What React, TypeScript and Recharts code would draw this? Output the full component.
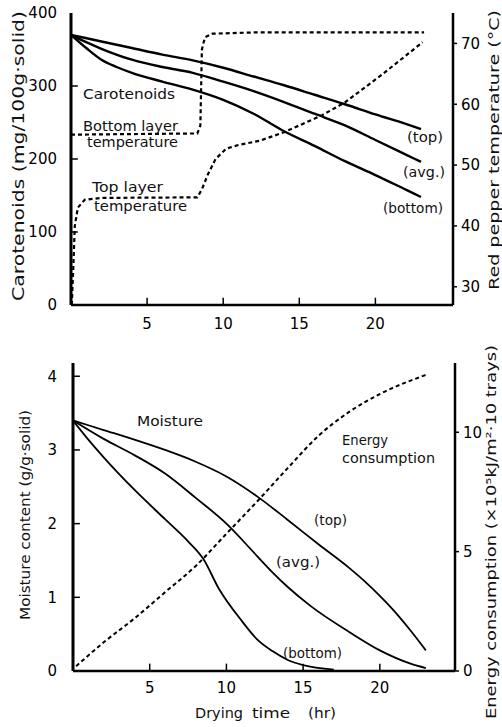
import React from 'react';
import { LineChart, Line, XAxis, YAxis, ReferenceLine } from 'recharts';

const FONT = 'DejaVu Sans';

// ---------- Top panel: carotenoids & red pepper temperature vs drying time ----------
const caroTop = [
  { t: 0, v: 370 }, { t: 2, v: 361 }, { t: 4, v: 352 }, { t: 6, v: 343 }, { t: 8, v: 335 },
  { t: 10, v: 325 }, { t: 12, v: 313 }, { t: 14, v: 301 }, { t: 16, v: 288 }, { t: 18, v: 275 },
  { t: 20, v: 261 }, { t: 22, v: 248 }, { t: 23, v: 241 },
];
const caroAvg = [
  { t: 0, v: 370 }, { t: 1, v: 360 }, { t: 2, v: 351 }, { t: 4, v: 336 }, { t: 6, v: 326 },
  { t: 8, v: 318 }, { t: 10, v: 306 }, { t: 12, v: 293 }, { t: 14, v: 278 }, { t: 16, v: 262 },
  { t: 18, v: 246 }, { t: 20, v: 226 }, { t: 22, v: 206 }, { t: 23, v: 196 },
];
const caroBottom = [
  { t: 0, v: 370 }, { t: 1, v: 352 }, { t: 2, v: 336 }, { t: 3, v: 326 }, { t: 4, v: 318 },
  { t: 6, v: 306 }, { t: 8, v: 295 }, { t: 10, v: 281 }, { t: 12, v: 262 }, { t: 14, v: 238 },
  { t: 16, v: 218 }, { t: 18, v: 197 }, { t: 20, v: 178 }, { t: 22, v: 158 }, { t: 23, v: 148 },
];
const tempBottomLayer = [
  { t: 0, v: 55 }, { t: 8.3, v: 55.2 }, { t: 8.5, v: 56.5 }, { t: 8.6, v: 69 }, { t: 8.8, v: 71 },
  { t: 9.3, v: 71.6 }, { t: 12, v: 71.8 }, { t: 23.2, v: 71.8 },
];
const tempTopLayer = [
  { t: 0.05, v: 27 }, { t: 0.15, v: 33 }, { t: 0.25, v: 40 }, { t: 0.45, v: 43 }, { t: 0.9, v: 44.3 },
  { t: 2, v: 44.6 }, { t: 8.3, v: 44.7 }, { t: 8.6, v: 46 }, { t: 9, v: 48.5 }, { t: 9.5, v: 51 },
  { t: 10.2, v: 52.7 }, { t: 11, v: 53.3 }, { t: 12.4, v: 54 }, { t: 14, v: 55.4 }, { t: 16.5, v: 58.2 },
  { t: 18, v: 60.3 }, { t: 20.5, v: 65 }, { t: 23.1, v: 70.2 },
];
const topXTicks = [5, 10, 15, 20];
const caroTicks = [0, 100, 200, 300, 400];
const tempTicks = [30, 40, 50, 60, 70];

// ---------- Bottom panel: moisture & energy consumption vs drying time ----------
const moistTop = [
  { t: 0, v: 3.4 }, { t: 2, v: 3.27 }, { t: 4, v: 3.14 }, { t: 6, v: 3.0 }, { t: 8, v: 2.84 },
  { t: 10, v: 2.64 }, { t: 12, v: 2.37 }, { t: 14, v: 2.05 }, { t: 16, v: 1.72 }, { t: 18, v: 1.4 },
  { t: 19, v: 1.22 }, { t: 20, v: 1.02 }, { t: 21, v: 0.8 }, { t: 22, v: 0.55 }, { t: 23, v: 0.28 },
];
const moistAvg = [
  { t: 0, v: 3.4 }, { t: 2, v: 3.15 }, { t: 4, v: 2.93 }, { t: 6, v: 2.68 }, { t: 8, v: 2.35 },
  { t: 10, v: 2.0 }, { t: 12, v: 1.56 }, { t: 13, v: 1.34 }, { t: 14, v: 1.14 }, { t: 15.5, v: 0.88 },
  { t: 18, v: 0.53 }, { t: 20, v: 0.28 }, { t: 22, v: 0.1 }, { t: 23, v: 0.04 },
];
const moistBottom = [
  { t: 0, v: 3.4 }, { t: 1, v: 3.14 }, { t: 2, v: 2.9 }, { t: 4, v: 2.46 }, { t: 6, v: 2.06 },
  { t: 7.5, v: 1.76 }, { t: 8.5, v: 1.52 }, { t: 9.5, v: 1.12 }, { t: 11, v: 0.68 }, { t: 12, v: 0.43 },
  { t: 13, v: 0.27 }, { t: 14, v: 0.15 }, { t: 15, v: 0.08 }, { t: 17, v: 0.02 },
];
const energy = [
  { t: 0.2, v: 0.2 }, { t: 2, v: 1.2 }, { t: 4, v: 2.2 }, { t: 6, v: 3.3 }, { t: 8, v: 4.4 },
  { t: 10, v: 5.75 }, { t: 12, v: 7.1 }, { t: 14, v: 8.5 }, { t: 16, v: 9.85 }, { t: 18, v: 10.85 },
  { t: 20, v: 11.6 }, { t: 23, v: 12.4 },
];
const bottomXTicks = [5, 10, 15, 20];
const moistTicks = [0, 1, 2, 3, 4];
const energyTicks = [0, 5, 10];

const tickStyle = { fill: '#000', fontSize: 15, fontFamily: FONT };
const AX = '#000';

function Txt({ x, y, children, len, size = 14.5, rot = false, anchor = 'start' }: any) {
  return (
    <text
      x={x}
      y={y}
      fontFamily={FONT}
      fontSize={size}
      fill="#111"
      textAnchor={anchor}
      textLength={len}
      lengthAdjust={len ? 'spacingAndGlyphs' : undefined}
      transform={rot ? `rotate(-90 ${x} ${y})` : undefined}
    >
      {children}
    </text>
  );
}

export default function App() {
  return (
    <div style={{ position: 'absolute', left: 0, top: 0, width: 502, height: 727, background: '#fff' }}>
      <div style={{ position: 'absolute', left: 0, top: 0 }}>
        <LineChart width={502} height={340} margin={{ top: 13, right: 0, bottom: 0, left: 0 }}>
          <XAxis
            xAxisId="x"
            type="number"
            dataKey="t"
            domain={[0, 25.1]}
            ticks={topXTicks}
            allowDataOverflow
            height={35}
            axisLine={{ stroke: AX, strokeWidth: 2.5 }}
            tickLine={false}
            tickMargin={7}
            tick={tickStyle}
          />
          <XAxis
            xAxisId="top"
            type="number"
            orientation="top"
            domain={[0, 25.1]}
            height={0}
            tick={false}
            tickLine={false}
            axisLine={{ stroke: AX, strokeWidth: 2.5 }}
          />
          <YAxis
            yAxisId="c"
            type="number"
            domain={[0, 400]}
            ticks={caroTicks}
            width={71}
            allowDataOverflow
            axisLine={{ stroke: AX, strokeWidth: 3 }}
            tickLine={false}
            tickMargin={8}
            tick={tickStyle}
          />
          <YAxis
            yAxisId="T"
            orientation="right"
            type="number"
            domain={[27, 75]}
            ticks={tempTicks}
            width={49}
            allowDataOverflow
            axisLine={{ stroke: AX, strokeWidth: 2.5 }}
            tickLine={{ stroke: AX, strokeWidth: 1.5 }}
            tickSize={4}
            tickMargin={4}
            tick={tickStyle}
          />
          {topXTicks.map((t) => (
            <ReferenceLine key={'tx' + t} xAxisId="x" yAxisId="c" ifOverflow="visible"
              segment={[{ x: t, y: 0 }, { x: t, y: 10 }]} stroke={AX} strokeWidth={1.5} />
          ))}
          {caroTicks.slice(1, -1).map((v) => (
            <ReferenceLine key={'ty' + v} xAxisId="x" yAxisId="c" ifOverflow="visible"
              segment={[{ x: 0, y: v }, { x: 0.45, y: v }]} stroke={AX} strokeWidth={1.5} />
          ))}
          <Line xAxisId="x" yAxisId="c" data={caroTop} dataKey="v" type="monotone" stroke="#000" strokeWidth={2.4} dot={false} isAnimationActive={false} />
          <Line xAxisId="x" yAxisId="c" data={caroAvg} dataKey="v" type="monotone" stroke="#000" strokeWidth={2.4} dot={false} isAnimationActive={false} />
          <Line xAxisId="x" yAxisId="c" data={caroBottom} dataKey="v" type="monotone" stroke="#000" strokeWidth={2.4} dot={false} isAnimationActive={false} />
          <Line xAxisId="x" yAxisId="T" data={tempBottomLayer} dataKey="v" type="linear" stroke="#000" strokeWidth={2.2} strokeDasharray="4 3" dot={false} isAnimationActive={false} />
          <Line xAxisId="x" yAxisId="T" data={tempTopLayer} dataKey="v" type="linear" stroke="#000" strokeWidth={2.2} strokeDasharray="4 3" dot={false} isAnimationActive={false} />
        </LineChart>
      </div>
      <div style={{ position: 'absolute', left: 0, top: 340 }}>
        <LineChart width={502} height={387} margin={{ top: 23, right: 0, bottom: 0, left: 0 }}>
          <XAxis
            xAxisId="x"
            type="number"
            dataKey="t"
            domain={[0, 24.9]}
            ticks={bottomXTicks}
            allowDataOverflow
            height={56}
            axisLine={{ stroke: AX, strokeWidth: 2.5 }}
            tickLine={false}
            tickMargin={5}
            tick={tickStyle}
          />
          <XAxis
            xAxisId="top"
            type="number"
            orientation="top"
            domain={[0, 24.9]}
            height={0}
            tick={false}
            tickLine={false}
            axisLine={{ stroke: AX, strokeWidth: 2.5 }}
          />
          <YAxis
            yAxisId="m"
            type="number"
            domain={[0, 4.18]}
            ticks={moistTicks}
            width={73}
            allowDataOverflow
            axisLine={{ stroke: AX, strokeWidth: 3 }}
            tickLine={false}
            tickMargin={10}
            tick={tickStyle}
          />
          <YAxis
            yAxisId="e"
            orientation="right"
            type="number"
            domain={[0, 12.9]}
            ticks={energyTicks}
            width={47}
            allowDataOverflow
            axisLine={{ stroke: AX, strokeWidth: 2.5 }}
            tickLine={{ stroke: AX, strokeWidth: 1.5 }}
            tickSize={4}
            tickMargin={4}
            tick={tickStyle}
          />
          {bottomXTicks.map((t) => (
            <ReferenceLine key={'bx' + t} xAxisId="x" yAxisId="m" ifOverflow="visible"
              segment={[{ x: t, y: 0 }, { x: t, y: 0.1 }]} stroke={AX} strokeWidth={1.5} />
          ))}
          {moistTicks.slice(1).map((v) => (
            <ReferenceLine key={'by' + v} xAxisId="x" yAxisId="m" ifOverflow="visible"
              segment={[{ x: 0, y: v }, { x: 0.45, y: v }]} stroke={AX} strokeWidth={1.5} />
          ))}
          <Line xAxisId="x" yAxisId="m" data={moistTop} dataKey="v" type="monotone" stroke="#000" strokeWidth={1.8} dot={false} isAnimationActive={false} />
          <Line xAxisId="x" yAxisId="m" data={moistAvg} dataKey="v" type="monotone" stroke="#000" strokeWidth={1.8} dot={false} isAnimationActive={false} />
          <Line xAxisId="x" yAxisId="m" data={moistBottom} dataKey="v" type="monotone" stroke="#000" strokeWidth={1.8} dot={false} isAnimationActive={false} />
          <Line xAxisId="x" yAxisId="e" data={energy} dataKey="v" type="monotone" stroke="#000" strokeWidth={2} strokeDasharray="4 3" dot={false} isAnimationActive={false} />
        </LineChart>
      </div>
      <svg width={502} height={727} style={{ position: 'absolute', left: 0, top: 0, pointerEvents: 'none' }}>
        {/* top panel annotations */}
        <Txt x={83} y={99} len={92}>Carotenoids</Txt>
        <Txt x={83} y={131} len={95}>Bottom layer</Txt>
        <Txt x={87} y={147} len={91}>temperature</Txt>
        <Txt x={92} y={192} len={71}>Top layer</Txt>
        <Txt x={94} y={211} len={93}>temperature</Txt>
        <Txt x={407} y={142} len={36}>(top)</Txt>
        <Txt x={403} y={177} len={42}>(avg.)</Txt>
        <Txt x={383} y={213} len={60}>(bottom)</Txt>
        <Txt x={24} y={156} len={290} size={15} rot anchor="middle">Carotenoids (mg/100g·solid)</Txt>
        <Txt x={499} y={150} len={280} size={14} rot anchor="middle">Red pepper temperature (°C)</Txt>
        {/* bottom panel annotations */}
        <Txt x={137} y={426} len={66}>Moisture</Txt>
        <Txt x={342} y={445} len={46}>Energy</Txt>
        <Txt x={342} y={463} len={93}>consumption</Txt>
        <Txt x={314} y={525} len={33}>(top)</Txt>
        <Txt x={276} y={567} len={44}>(avg.)</Txt>
        <Txt x={283} y={658} len={59}>(bottom)</Txt>
        <Txt x={30} y={515} len={210} size={14} rot anchor="middle">Moisture content (g/g·solid)</Txt>
        <Txt x={496} y={532} len={374} size={14} rot anchor="middle">Energy consumption (×10⁵kJ/m²·10 trays)</Txt>
        <Txt x={195} y={718} len={48}>Drying</Txt>
        <Txt x={252} y={718} len={38}>time</Txt>
        <Txt x={308} y={718} len={28}>(hr)</Txt>
      </svg>
    </div>
  );
}
